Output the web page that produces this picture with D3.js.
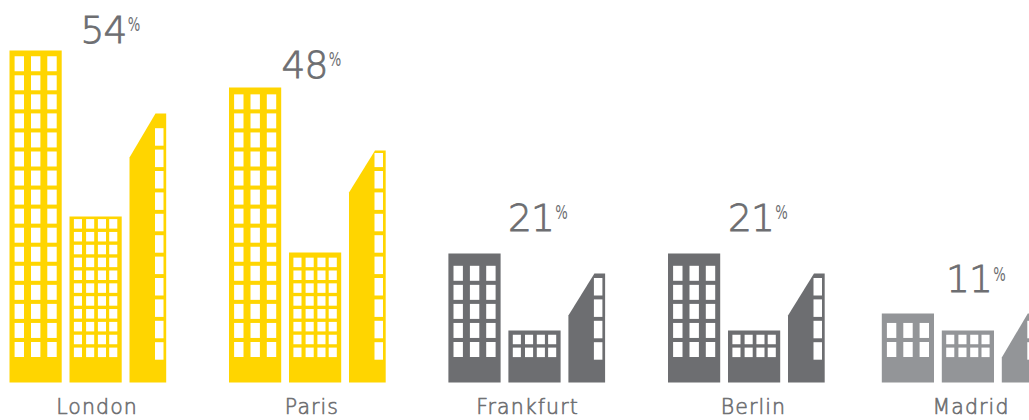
<!DOCTYPE html>
<html><head><meta charset="utf-8">
<script src="https://cdn.jsdelivr.net/npm/d3@7"></script>
<style>html,body{margin:0;padding:0;background:#fff;overflow:hidden}svg{display:block}text{font-family:"DejaVu Sans",sans-serif;fill:#6d6e71}</style>
</head><body><svg id="c" width="1029" height="420"></svg>
<script>
const cities = ["London","Paris","Frankfurt","Berlin","Madrid"];
const shares = [54,48,21,21,11];
const tallHeight = [332,295,129,129,69];
const midHeight = [166,130,52,52,52];
const slantHeight = [269,232,109,109,69];
const shoulderHeight = [225,190,67,67,25];
const tallRows = [16,14,5,5,2];
const midRows = [11,8,2,2,2];
const slantRows = [11,10,4,4,2];
const tones = ["high","high","mid","mid","low"];

const W=1029,H=420,base=382.5;
const svg=d3.select("#c");
const y=d3.scaleLinear().domain([0,332]).range([base,base-332]);
const cityX=d3.scaleOrdinal(cities,[9.5,229,448.4,668,881.8]);
const nameX=d3.scaleOrdinal(cities,[97,312,527.5,753.5,971]);
const valueX=d3.scaleOrdinal(cities,[80.5,281.5,508,728,946]);
const valueY=d3.scaleOrdinal(cities,[42.7,77.7,230.5,230.5,292]);
const colour=d3.scaleOrdinal(["high","mid","low"],["#ffd500","#6d6e71","#939598"]);

const tallCols=[5.1,21.5,37.8], midCols=[64.4,76.6,88.4,99.7], slantCols=[145.5];
const tallW=9.4, midW=8.1, slantW=8.5;

cities.forEach((c,i)=>{
  const x0=cityX(c), g=svg.append("g").attr("class","city");
  const fill=colour(tones[i]);
  g.append("rect").attr("x",x0).attr("width",52.2).attr("y",y(tallHeight[i])).attr("height",y(0)-y(tallHeight[i])).attr("fill",fill);
  g.append("rect").attr("x",x0+60).attr("width",52.2).attr("y",y(midHeight[i])).attr("height",y(0)-y(midHeight[i])).attr("fill",fill);
  const line=d3.line().x(d=>x0+d[0]).y(d=>y(d[1]));
  g.append("path").attr("d",line([[120,0],[120,shoulderHeight[i]],[146,slantHeight[i]],[156.7,slantHeight[i]],[156.7,0]])+"Z").attr("fill",fill);

  const win=(cols,w,rows,bottom,step,h,clipTop)=>{
    d3.range(rows).forEach(r=>{
      cols.forEach(cx=>{
        const b=bottom-step*r; let t=b-h;
        if(clipTop!==undefined) t=Math.max(t,clipTop);
        g.append("rect").attr("x",x0+cx).attr("width",w).attr("y",t).attr("height",b-t).attr("fill","#fff");
      });
    });
  };
  win(tallCols,tallW,tallRows[i],357,19.05,15);
  win(midCols,midW,midRows[i],357.1,12.85,9.5);
  win(slantCols,slantW,slantRows[i],359.7,21.4,17.5,y(slantHeight[i])+2.5);

  const v=svg.append("text").attr("x",valueX(c)).attr("y",valueY(c)).attr("font-size",37.5).attr("font-weight",200)
    .attr("letter-spacing",-0.8).attr("stroke","#6d6e71").attr("stroke-width",0.8).text(shares[i]);
  const vw=v.node().getComputedTextLength();
  svg.append("text").attr("x",valueX(c)+vw+1).attr("y",valueY(c)-11.5)
    .attr("font-family","'Liberation Sans',sans-serif").attr("font-size",19)
    .attr("textLength",12.5).attr("lengthAdjust","spacingAndGlyphs").text("%");
  svg.append("text").attr("x",nameX(c)).attr("y",414).attr("text-anchor","middle").attr("font-size",20.5).attr("font-weight",200)
    .attr("letter-spacing",1.1).attr("stroke","#6d6e71").attr("stroke-width",0.6).text(c);
});
</script></body></html>
